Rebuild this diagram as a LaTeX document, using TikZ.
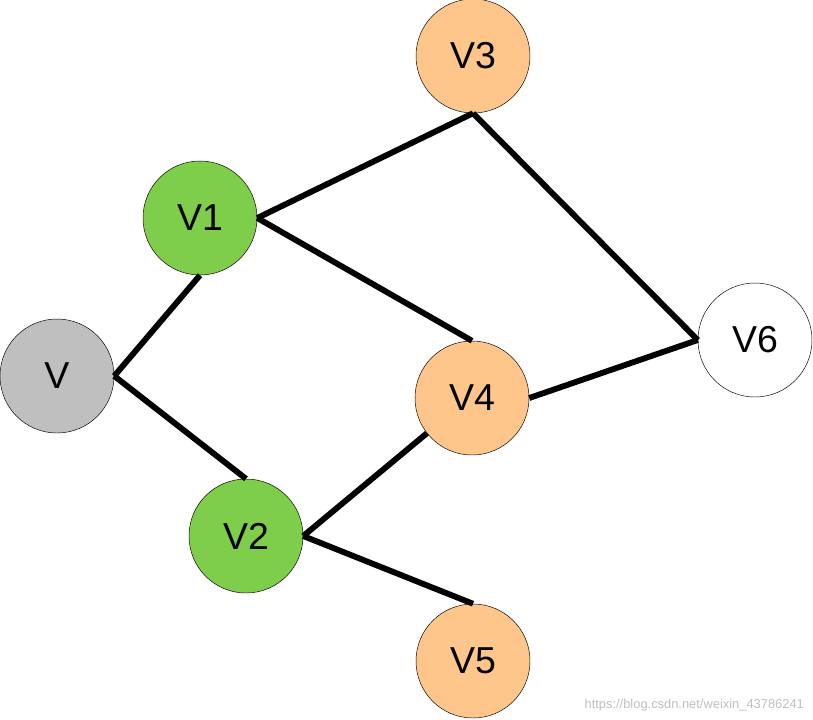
\documentclass[tikz,border=0pt]{standalone}
\usepackage{fontspec}
\setmainfont{Liberation Sans}
\usetikzlibrary{positioning}
\begin{document}
\begin{tikzpicture}[x=0.03cm,y=-0.03cm,
vnode/.style={circle, draw=black, thin, minimum size=3.42cm, inner sep=0pt, font=\fontsize{32}{36}\selectfont},
edge/.style={line width=5pt},
]
\useasboundingbox (0,0) rectangle (813,719);
%Nodes
\node[vnode, fill=black!25]        (v)  at (57,376)  {V};
\node[vnode, fill=green!45!olive!70] (v1) at (200,218) {V1};
\node[vnode, fill=green!45!olive!70] (v2) at (246,536) {V2};
\node[vnode, fill=orange!45]        (v3) at (473,56)  {V3};
\node[vnode, fill=orange!45]        (v4) at (472,398) {V4};
\node[vnode, fill=orange!45]        (v5) at (473,661) {V5};
\node[vnode, fill=white]            (v6) at (755,340) {V6};
\node[text=black!25, font=\fontsize{11}{13}\selectfont, anchor=east] (wm) at (808,705) {https://blog.csdn.net/weixin\_43786241};

%Lines
\draw[edge] (v.east) -- (v1.south);
\draw[edge] (v.east) -- (v2.north);
\draw[edge] (v1.east) -- (v3.south);
\draw[edge] (v1.east) -- (v4.north);
\draw[edge] (v2.east) -- (v4.218);
\draw[edge] (v2.east) -- (v5.north);
\draw[edge] (v3.south) -- (v6.west);
\draw[edge] (v4.east) -- (v6.west);
\end{tikzpicture}
\end{document}
